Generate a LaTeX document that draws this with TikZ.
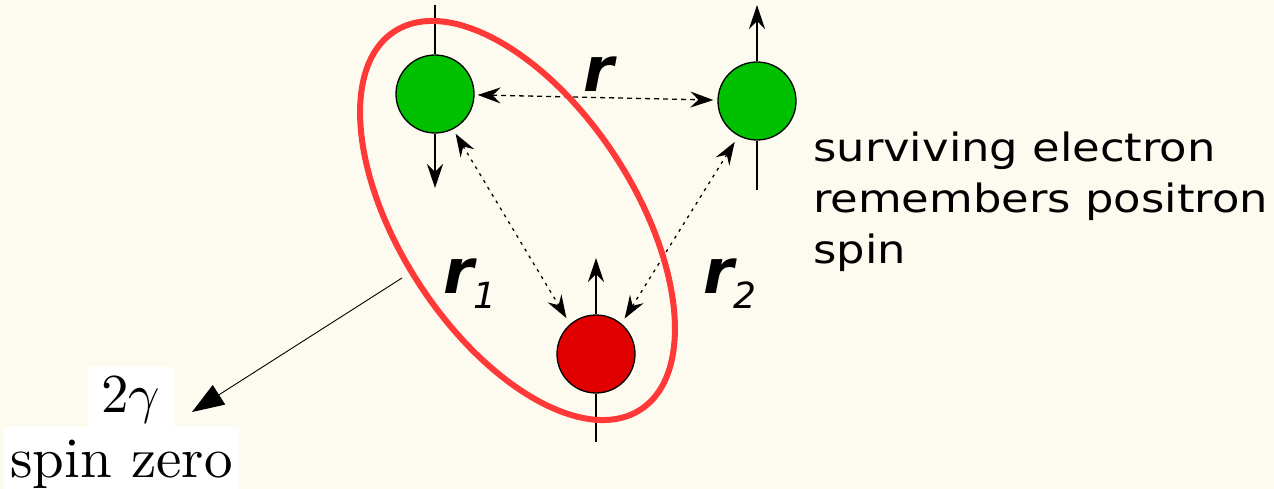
\documentclass[tikz,border=0pt]{standalone}
\usepackage{fontspec}
\usetikzlibrary{arrows.meta}
\newfontfamily\comic[FakeStretch=1.15]{DejaVu Sans}
\newfontfamily\rfont{DejaVu Sans}
\definecolor{bg}{RGB}{253,251,240}
\definecolor{ggreen}{RGB}{0,192,0}
\definecolor{pred}{RGB}{224,0,0}
\definecolor{ering}{RGB}{255,56,56}
\tikzset{
  particle/.style={circle, draw=black, line width=1.3pt, minimum size=78pt, inner sep=0pt},
  spinline/.style={line width=1.3pt},
  spinarrow/.style={line width=1.3pt, -{Stealth[length=24pt,width=16pt,inset=8pt]}},
  sep/.style={line width=1.3pt, dash pattern=on 3pt off 5pt,
     {Stealth[length=23pt,width=16pt,inset=8pt]}-{Stealth[length=23pt,width=16pt,inset=8pt]}},
  rlabel/.style={inner sep=0pt, anchor=base west, font=\rfont\bfseries\itshape\fontsize{62}{62}\selectfont},
}
\newcommand{\subdigit}[1]{\raisebox{-15pt}{\fontsize{36}{36}\selectfont\mdseries #1}}
\begin{document}
\begin{tikzpicture}[x=1pt,y=-1pt]
\useasboundingbox (0,0) rectangle (1274,489);
\fill[bg] (0,0) rectangle (1274,489);

% particles
\node[particle, fill=ggreen] (e1) at (435,94) {};
\node[particle, fill=ggreen] (e2) at (757,101) {};
\node[particle, fill=pred] (p) at (596,354) {};

% spins
\coordinate (e1top) at (435,5);
\coordinate (e1dn) at (435,188);
\coordinate (e2up) at (757,5);
\coordinate (e2dn) at (757,190);
\coordinate (pup) at (596,258);
\coordinate (pdn) at (596,442);
\draw[spinline] (e1top) -- (e1.north);
\draw[spinarrow] (e1.south) -- (e1dn);
\draw[spinarrow] (e2.north) -- (e2up);
\draw[spinline] (e2.south) -- (e2dn);
\draw[spinarrow] (p.north) -- (pup);
\draw[spinline] (p.south) -- (pdn);

% separations
\draw[sep, dash pattern=on 5pt off 4pt, shorten <=3pt, shorten >=4pt] (e1) -- (e2);
\draw[sep, shorten <=5pt, shorten >=7pt] (e1.-63) -- (p.131);
\draw[sep, shorten <=6pt, shorten >=7pt] (p.50) -- (e2.-118);

% ellipse
\draw[ering, line width=6pt, rotate around={-56.9:(517.5,220.5)}]
  (517.5,220.5) ellipse [x radius=225.6pt, y radius=117pt];

% labels
\node[rlabel] (lr) at (583,92) {r};
\node[rlabel] (lr1) at (443,293) {r\subdigit{1}};
\node[rlabel] (lr2) at (703,293) {r\subdigit{2}};

\node[anchor=base west, inner sep=0pt, align=left,
      font=\comic\fontsize{39}{51}\selectfont] (txt) at (813,263)
  {surviving electron\\remembers positron\\spin};

% 2 gamma pointer
\coordinate (ep) at (402,278);
\coordinate (gt) at (192,412);
\draw[line width=0.9pt, -{Triangle[length=32pt,width=23pt]}] (ep) -- (gt);

\node[fill=white, inner xsep=13pt, inner ysep=0pt, text height=45pt, text depth=15pt,
      anchor=base] (tg) at (131,412) {\scalebox{5.5}{$2\gamma$}};
\node[fill=white, inner xsep=6pt, inner ysep=0pt, text height=50pt, text depth=15pt,
      anchor=base] (sz) at (121.5,477) {\scalebox{5.7}{spin zero}};
\end{tikzpicture}
\end{document}
